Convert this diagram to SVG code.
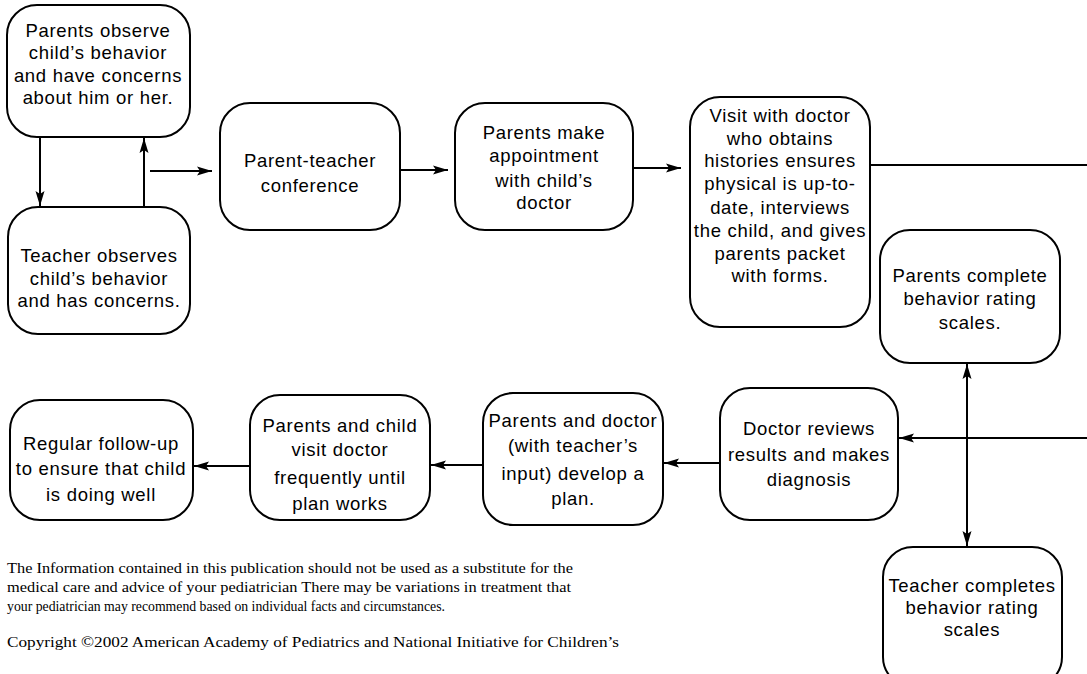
<svg xmlns="http://www.w3.org/2000/svg" width="1087" height="674" viewBox="0 0 1087 674">
<style>
.box{fill:#fff;stroke:#000;stroke-width:2}
.t{font-family:"Liberation Sans",Arial,sans-serif;font-size:18.5px;letter-spacing:0.7px;fill:#000;text-anchor:middle}
.c{stroke:#000;stroke-width:2;fill:none}
.f{font-family:"Liberation Serif","Times New Roman",serif;font-size:14px;fill:#000}
</style>
<defs>
<marker id="ah" markerUnits="userSpaceOnUse" markerWidth="16" markerHeight="10" refX="15" refY="5" orient="auto-start-reverse">
<path d="M0,0.5 L15,5 L0,9.5 L3,5 Z" fill="#000"/>
</marker>
</defs>
<rect width="1087" height="674" fill="#fff"/>
<g id="connectors">
<line class="c" x1="40" y1="137" x2="40" y2="206" marker-end="url(#ah)"/>
<line class="c" x1="144" y1="207" x2="144" y2="138" marker-end="url(#ah)"/>
<line class="c" x1="150" y1="171" x2="212" y2="171" marker-end="url(#ah)"/>
<line class="c" x1="400" y1="170" x2="448" y2="170" marker-end="url(#ah)"/>
<line class="c" x1="633" y1="168" x2="681" y2="168" marker-end="url(#ah)"/>
<line class="c" x1="870" y1="165" x2="1087" y2="165"/>
<line class="c" x1="1087" y1="438" x2="899" y2="438" marker-end="url(#ah)"/>
<line class="c" x1="967" y1="364" x2="967" y2="546" marker-start="url(#ah)" marker-end="url(#ah)"/>
<line class="c" x1="720" y1="463" x2="664" y2="463" marker-end="url(#ah)"/>
<line class="c" x1="483" y1="465" x2="431" y2="465" marker-end="url(#ah)"/>
<line class="c" x1="250" y1="466" x2="194" y2="466" marker-end="url(#ah)"/>
</g>
<g id="n1"><rect class="box" x="7" y="5" width="183" height="132" rx="30"/>
<text class="t"><tspan x="98" y="37">Parents observe</tspan><tspan x="98" y="59">child’s behavior</tspan><tspan x="98" y="82">and have concerns</tspan><tspan x="98" y="104">about him or her.</tspan></text></g>
<g id="n2"><rect class="box" x="8" y="207" width="182" height="127" rx="30"/>
<text class="t"><tspan x="99" y="262">Teacher observes</tspan><tspan x="99" y="285">child’s behavior</tspan><tspan x="99" y="307">and has concerns.</tspan></text></g>
<g id="n3"><rect class="box" x="220" y="103" width="180" height="127" rx="30"/>
<text class="t"><tspan x="310" y="167">Parent-teacher</tspan><tspan x="310" y="192">conference</tspan></text></g>
<g id="n4"><rect class="box" x="455" y="103" width="178" height="127" rx="30"/>
<text class="t"><tspan x="544" y="139">Parents make</tspan><tspan x="544" y="162">appointment</tspan><tspan x="544" y="187">with child’s</tspan><tspan x="544" y="209">doctor</tspan></text></g>
<g id="n5"><rect class="box" x="690" y="97" width="180" height="230" rx="30"/>
<text class="t"><tspan x="780" y="122">Visit with doctor</tspan><tspan x="780" y="145">who obtains</tspan><tspan x="780" y="167">histories ensures</tspan><tspan x="780" y="190">physical is up-to-</tspan><tspan x="780" y="214">date, interviews</tspan><tspan x="780" y="237">the child, and gives</tspan><tspan x="780" y="260">parents packet</tspan><tspan x="780" y="282">with forms.</tspan></text></g>
<g id="n6"><rect class="box" x="880" y="230" width="180" height="133" rx="30"/>
<text class="t"><tspan x="970" y="282">Parents complete</tspan><tspan x="970" y="305">behavior rating</tspan><tspan x="970" y="329">scales.</tspan></text></g>
<g id="n7"><rect class="box" x="883" y="547" width="179" height="140" rx="30"/>
<text class="t"><tspan x="972" y="592">Teacher completes</tspan><tspan x="972" y="614">behavior rating</tspan><tspan x="972" y="636">scales</tspan></text></g>
<g id="n8"><rect class="box" x="720" y="388" width="178" height="132" rx="30"/>
<text class="t"><tspan x="809" y="435">Doctor reviews</tspan><tspan x="809" y="461">results and makes</tspan><tspan x="809" y="486">diagnosis</tspan></text></g>
<g id="n9"><rect class="box" x="483" y="393" width="180" height="132" rx="30"/>
<text class="t"><tspan x="573" y="427">Parents and doctor</tspan><tspan x="573" y="452">(with teacher’s</tspan><tspan x="573" y="480">input) develop a</tspan><tspan x="573" y="505">plan.</tspan></text></g>
<g id="n10"><rect class="box" x="250" y="395" width="180" height="125" rx="30"/>
<text class="t"><tspan x="340" y="432">Parents and child</tspan><tspan x="340" y="456">visit doctor</tspan><tspan x="340" y="484">frequently until</tspan><tspan x="340" y="510">plan works</tspan></text></g>
<g id="n11"><rect class="box" x="10" y="400" width="183" height="120" rx="30"/>
<text class="t"><tspan x="101" y="450">Regular follow-up</tspan><tspan x="101" y="475">to ensure that child</tspan><tspan x="101" y="501">is doing well</tspan></text></g>
<g id="footer">
<text class="f" x="7" y="573" textLength="566" lengthAdjust="spacingAndGlyphs">The Information contained in this publication should not be used as a substitute for the</text>
<text class="f" x="7" y="592" textLength="564" lengthAdjust="spacingAndGlyphs">medical care and advice of your pediatrician  There may be variations in treatment that</text>
<text class="f" x="7" y="611" textLength="438" lengthAdjust="spacingAndGlyphs">your pediatrician may recommend based on individual facts and circumstances.</text>
<text class="f" x="7" y="647" textLength="612" lengthAdjust="spacingAndGlyphs">Copyright ©2002 American Academy of Pediatrics and National Initiative for Children’s</text>
</g>
</svg>
